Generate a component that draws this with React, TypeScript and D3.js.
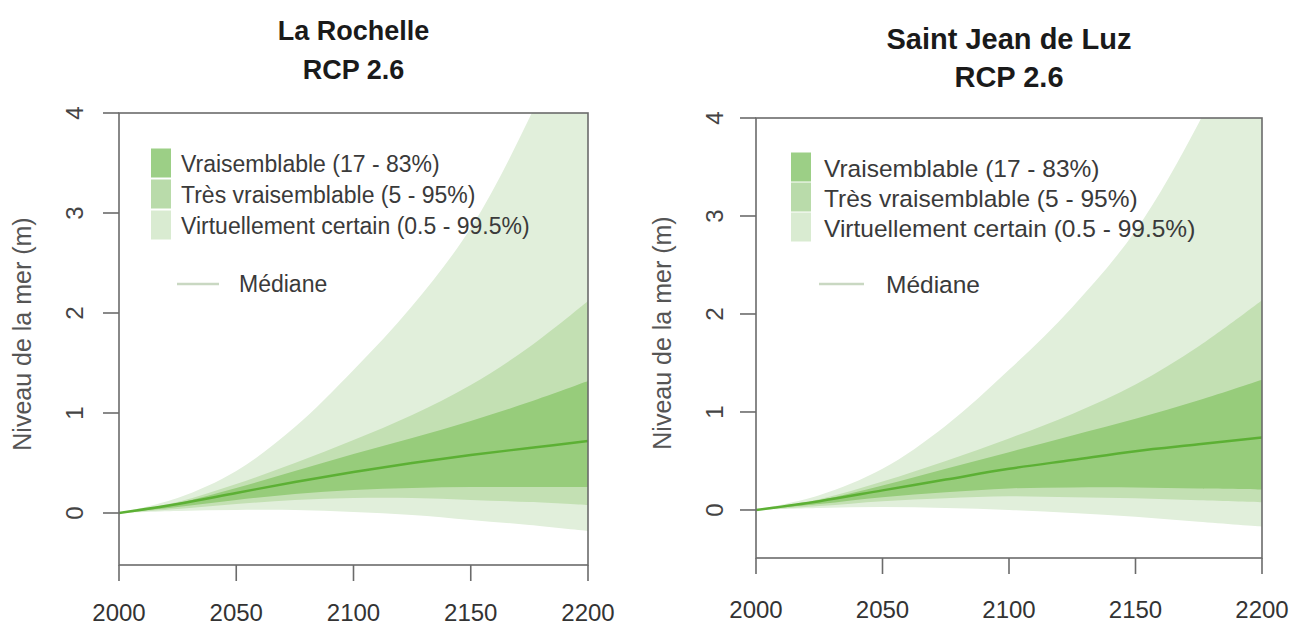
import React from "react";
import * as d3 from "d3";

// ---- data ----
const years = [2000, 2025, 2050, 2075, 2100, 2125, 2150, 2175, 2200];
const xTicks = [2000, 2050, 2100, 2150, 2200];
const yTicks = [0, 1, 2, 3, 4];

const rochelleMedian = [0, 0.09, 0.2, 0.31, 0.41, 0.5, 0.58, 0.65, 0.72];
const rochelleLikelyLow = [0, 0.06, 0.13, 0.19, 0.23, 0.25, 0.26, 0.26, 0.26];
const rochelleLikelyHigh = [0, 0.1, 0.25, 0.42, 0.59, 0.75, 0.92, 1.11, 1.32];
const rochelleVeryLow = [0, 0.04, 0.09, 0.13, 0.15, 0.15, 0.13, 0.11, 0.08];
const rochelleVeryHigh = [0, 0.11, 0.29, 0.5, 0.73, 0.98, 1.28, 1.66, 2.12];
const rochelleCertainLow = [0, 0.02, 0.03, 0.03, 0.01, -0.02, -0.07, -0.12, -0.18];
const rochelleCertainHigh = [0, 0.15, 0.42, 0.86, 1.43, 2.07, 2.85, 3.95, 5.3];

const luzMedian = [0, 0.09, 0.2, 0.31, 0.42, 0.51, 0.6, 0.67, 0.74];
const luzLikelyLow = [0, 0.06, 0.13, 0.18, 0.22, 0.23, 0.23, 0.22, 0.21];
const luzLikelyHigh = [0, 0.1, 0.25, 0.42, 0.59, 0.76, 0.93, 1.12, 1.33];
const luzVeryLow = [0, 0.04, 0.09, 0.12, 0.14, 0.13, 0.12, 0.1, 0.08];
const luzVeryHigh = [0, 0.11, 0.29, 0.5, 0.73, 0.98, 1.28, 1.67, 2.14];
const luzCertainLow = [0, 0.02, 0.03, 0.02, 0.0, -0.03, -0.07, -0.12, -0.17];
const luzCertainHigh = [0, 0.15, 0.42, 0.86, 1.43, 2.07, 2.85, 3.95, 5.3];

const legendLabels = [
  "Vraisemblable (17 - 83%)",
  "Très vraisemblable (5 - 95%)",
  "Virtuellement certain (0.5 - 99.5%)",
];
const medianLabel = "Médiane";
const yAxisTitle = "Niveau de la mer (m)";

// ---- styles ----
const FONT = "'Liberation Sans', Arial, Helvetica, sans-serif";
const C_CERTAIN = "#e1efdb";
const C_VERY = "#c3e0b3";
const C_LIKELY = "#97cc7b";
const C_MEDIAN = "#5cb034";
const LEGEND_SWATCH = ["#9ccf86", "#b9dbaa", "#d9ebd1"];
const LEGEND_LINE = "#c9d8c2";

type Panel = {
  id: string;
  title: string;
  median: number[];
  bands: { low: number[]; high: number[]; color: string }[];
  x0: number; x1: number; yTop: number; yBottom: number; yMin: number;
  titleY1: number; titleY2: number; titleSize: number;
  legendSwX: number; legendTextX: number; legendRowY: number[]; legendSize: number;
  medLineX0: number; medLineX1: number; medY: number; medTextX: number;
  tickLabelX: number; yTitleX: number; tickSize: number; xLabelY: number;
};

const panels: Panel[] = [
  {
    id: "rochelle",
    title: "La Rochelle",
    median: rochelleMedian,
    bands: [
      { low: rochelleCertainLow, high: rochelleCertainHigh, color: C_CERTAIN },
      { low: rochelleVeryLow, high: rochelleVeryHigh, color: C_VERY },
      { low: rochelleLikelyLow, high: rochelleLikelyHigh, color: C_LIKELY },
    ],
    x0: 119, x1: 588, yTop: 113, yBottom: 565, yMin: -0.52,
    titleY1: 40, titleY2: 79, titleSize: 27,
    legendSwX: 151, legendTextX: 181, legendRowY: [164, 195, 226], legendSize: 23,
    medLineX0: 177, medLineX1: 219, medY: 284, medTextX: 239,
    tickLabelX: 75, yTitleX: 22, tickSize: 24, xLabelY: 621,
  },
  {
    id: "luz",
    title: "Saint Jean de Luz",
    median: luzMedian,
    bands: [
      { low: luzCertainLow, high: luzCertainHigh, color: C_CERTAIN },
      { low: luzVeryLow, high: luzVeryHigh, color: C_VERY },
      { low: luzLikelyLow, high: luzLikelyHigh, color: C_LIKELY },
    ],
    x0: 756, x1: 1262, yTop: 118, yBottom: 558, yMin: -0.49,
    titleY1: 49, titleY2: 87, titleSize: 29,
    legendSwX: 791, legendTextX: 824, legendRowY: [168, 198, 228], legendSize: 24.5,
    medLineX0: 819, medLineX1: 864, medY: 284, medTextX: 886,
    tickLabelX: 715, yTitleX: 662, tickSize: 24, xLabelY: 618,
  },
];

function PanelView({ p }: { p: Panel }) {
  const x = d3.scaleLinear().domain([2000, 2200]).range([p.x0, p.x1]);
  const y = d3.scaleLinear().domain([p.yMin, 4]).range([p.yBottom, p.yTop]);
  const cx = (p.x0 + p.x1) / 2;
  const area = d3
    .area<number>()
    .x((_, i) => x(years[i]))
    .curve(d3.curveCatmullRom.alpha(0.5));
  const line = d3
    .line<number>()
    .x((_, i) => x(years[i]))
    .y((d) => y(d))
    .curve(d3.curveCatmullRom.alpha(0.5));
  const clipId = `clip-${p.id}`;
  const swH = 31;
  return (
    <g>
      <defs>
        <clipPath id={clipId}>
          <rect x={p.x0} y={p.yTop} width={p.x1 - p.x0} height={p.yBottom - p.yTop} />
        </clipPath>
      </defs>
      {/* title */}
      <text x={cx} y={p.titleY1} textAnchor="middle" fontFamily={FONT} fontWeight="bold" fontSize={p.titleSize} fill="#1a1a1a">
        {p.title}
      </text>
      <text x={cx} y={p.titleY2} textAnchor="middle" fontFamily={FONT} fontWeight="bold" fontSize={p.titleSize} fill="#1a1a1a">
        RCP 2.6
      </text>
      {/* bands */}
      <g clipPath={`url(#${clipId})`}>
        {p.bands.map((b, k) => (
          <path
            key={k}
            d={area.y0((_, i) => y(b.low[i])).y1((_, i) => y(b.high[i]))(b.low) || ""}
            fill={b.color}
          />
        ))}
        <path d={line(p.median) || ""} fill="none" stroke={C_MEDIAN} strokeWidth={2.5} />
      </g>
      {/* box */}
      <rect x={p.x0} y={p.yTop} width={p.x1 - p.x0} height={p.yBottom - p.yTop} fill="none" stroke="#6b6b6b" strokeWidth={1.6} />
      {/* y axis */}
      {yTicks.map((t) => (
        <g key={`y${t}`}>
          <line x1={p.x0 - 16} x2={p.x0} y1={y(t)} y2={y(t)} stroke="#6b6b6b" strokeWidth={1.6} />
          <text
            transform={`translate(${p.tickLabelX},${y(t)}) rotate(-90)`}
            textAnchor="middle"
            dy="0.35em"
            fontFamily={FONT}
            fontSize={p.tickSize}
            fill="#444"
          >
            {t}
          </text>
        </g>
      ))}
      <text
        transform={`translate(${p.yTitleX},${(p.yTop + p.yBottom) / 2 - 5}) rotate(-90)`}
        textAnchor="middle"
        dy="0.35em"
        fontFamily={FONT}
        fontSize={25}
        fill="#555"
      >
        {yAxisTitle}
      </text>
      {/* x axis */}
      {xTicks.map((t) => (
        <g key={`x${t}`}>
          <line x1={x(t)} x2={x(t)} y1={p.yBottom} y2={p.yBottom + 16} stroke="#6b6b6b" strokeWidth={1.6} />
          <text x={x(t)} y={p.xLabelY} textAnchor="middle" fontFamily={FONT} fontSize={p.tickSize} fill="#333">
            {t}
          </text>
        </g>
      ))}
      {/* legend */}
      {legendLabels.map((lab, i) => (
        <g key={lab}>
          <rect x={p.legendSwX} y={p.legendRowY[i] - swH / 2} width={20} height={swH - 2} fill={LEGEND_SWATCH[i]} />
          <text x={p.legendTextX} y={p.legendRowY[i]} dy="0.35em" fontFamily={FONT} fontSize={p.legendSize} fill="#3a3a3a">
            {lab}
          </text>
        </g>
      ))}
      <line x1={p.medLineX0} x2={p.medLineX1} y1={p.medY} y2={p.medY} stroke={LEGEND_LINE} strokeWidth={2.5} />
      <text x={p.medTextX} y={p.medY} dy="0.35em" fontFamily={FONT} fontSize={p.legendSize} fill="#3a3a3a">
        {medianLabel}
      </text>
    </g>
  );
}

export default function App() {
  return (
    <svg
      width={1302}
      height={626}
      viewBox="0 0 1302 626"
      style={{ position: "absolute", left: 0, top: 0, background: "#fff" }}
    >
      <rect width={1302} height={626} fill="#fff" />
      {panels.map((p) => (
        <PanelView key={p.id} p={p} />
      ))}
    </svg>
  );
}
